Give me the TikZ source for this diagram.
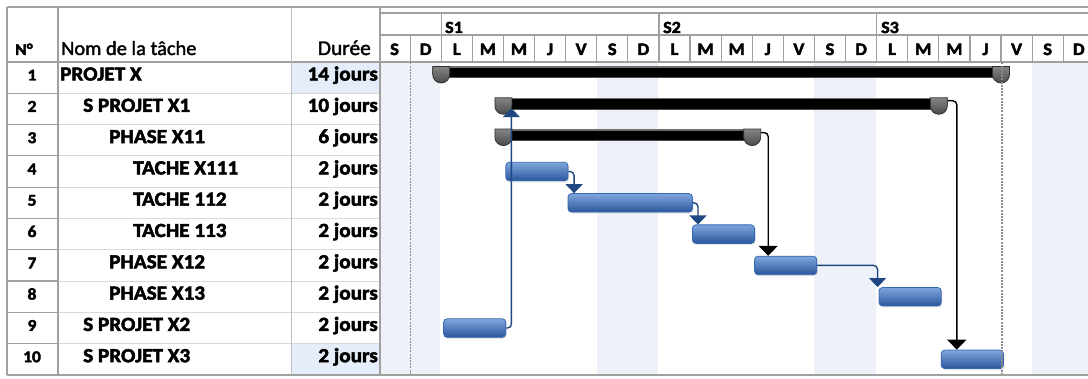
\documentclass[tikz,border=0pt]{standalone}
\usepackage{fontspec}
\setmainfont{Carlito}[FakeStretch=1.06,BoldFeatures={FakeBold=2.5}]
\newfontfamily\hdrfont{Carlito}[FakeStretch=1.02,FakeBold=1.8]
\usetikzlibrary{arrows.meta,calc,shadows}
\definecolor{gridD}{HTML}{A0A0A0}
\definecolor{gridM}{HTML}{BDBDBD}
\definecolor{gridL}{HTML}{DADADA}
\definecolor{wkend}{HTML}{EEF2F8}
\definecolor{hilite}{HTML}{E4EDF9}
\definecolor{barTop}{HTML}{7FA6DC}
\definecolor{barMid}{HTML}{4D7EC4}
\definecolor{barBot}{HTML}{2A569C}
\definecolor{barEdge}{HTML}{3567B2}
\definecolor{linkblue}{HTML}{1F4781}
\definecolor{capTop}{HTML}{858585}
\definecolor{capBot}{HTML}{4A4A4A}
\definecolor{capEdge}{HTML}{303030}
\definecolor{sumHi}{HTML}{6E6E6E}
\definecolor{dotgray}{HTML}{8C8C8C}
\newcommand\sumcap[2]{%
  \path[capstyle] ({#1-8.5},#2) -- ({#1+8.5},#2) -- ({#1+8.5},{#2+8})
    arc[start angle=0,end angle=180,radius=8.5] -- cycle;}
\begin{document}
\begin{tikzpicture}[x=1pt,y=-1pt,
  gd/.style={draw=gridD,line width=1.2pt},
  gm/.style={draw=gridM,line width=1pt},
  gl/.style={draw=gridL,line width=1pt},
  body/.style={font=\fontsize{20}{24}\selectfont\bfseries,inner sep=0pt,anchor=base west},
  durtxt/.style={font=\fontsize{20}{24}\selectfont\bfseries,inner sep=0pt,anchor=base east},
  numtxt/.style={font=\fontsize{16.5}{20}\selectfont\bfseries,inner sep=0pt,anchor=base},
  daytxt/.style={font=\fontsize{17.5}{20}\selectfont\bfseries,inner sep=0pt,anchor=base},
  wktxt/.style={font=\fontsize{17}{20}\selectfont\bfseries,inner sep=0pt,anchor=base west},
  sumbar/.style={rectangle,inner sep=0pt,minimum height=11.5pt,anchor=north west,fill=black},
  capstyle/.style={draw=capEdge,line width=0.8pt,top color=capTop,bottom color=capBot},
  task/.style={rectangle,rounded corners=3.5pt,inner sep=0pt,minimum height=18.5pt,
    anchor=north west,draw=barEdge,line width=0.8pt,
    top color=barTop,middle color=barMid,bottom color=barBot,
    drop shadow={shadow xshift=1pt,shadow yshift=-1.5pt,fill=black!25,opacity=0.4}},
  blink/.style={draw=linkblue,line width=1.4pt,rounded corners=4pt,
    -{Triangle[width=17pt,length=9pt]}},
  klink/.style={draw=black,line width=1.4pt,rounded corners=4pt,
    -{Triangle[width=19pt,length=10pt]}},
  dotline/.style={draw=dotgray,line width=1.2pt,dash pattern=on 2pt off 1.2pt}
]
\useasboundingbox (0,0) rectangle (1088,379);
\fill[white] (0,0) rectangle (1088,379);

% weekend shading
\foreach \k in {0,7,14,21}{
  \fill[wkend] ({379+31.1*\k},62.5) rectangle ({min(1088,379+31.1*(\k+2)-1)},374.5);
}
% highlighted duration cells
\fill[hilite] (292,62.5) rectangle (379.5,93.3);
\fill[hilite] (292,343.7) rectangle (379.5,374.5);

% row separators
\foreach \i in {2,...,10}{
  \pgfmathsetmacro\rt{62+31.3*(\i-1)}
  \draw[gl] (58,\rt) -- (380,\rt);
  \draw[gd] (7,\rt) -- (58,\rt);
}
% gantt header lines
\draw[gd] (380,13) -- (1088,13);
\draw[gd] (380,35) -- (1088,35);
\foreach \x in {441.2,658.9,876.6}{ \draw[gd] (\x,13) -- (\x,35); }
\foreach \k in {1,...,22}{ \draw[gd] ({379+31.1*\k},35) -- ({379+31.1*\k},62); }
% main table lines
\draw[gd] (7,7) -- (1088,7);
\draw[gd] (7,62) -- (1088,62);
\draw[gd] (7,375) -- (1088,375);
\draw[gd] (7,7) -- (7,375);
\draw[gd] (58,7) -- (58,375);
\draw[gm] (291.5,7) -- (291.5,375);
\draw[gd] (380,7) -- (380,375);

% header texts
\node[numtxt,anchor=base west] (hno) at (15,55) {N°};
\node[inner sep=0pt,anchor=base west,font=\hdrfont\fontsize{20}{24}\selectfont] (hname) at (61,55) {Nom de la tâche};
\node[inner sep=0pt,anchor=base east,font=\hdrfont\fontsize{21}{24}\selectfont] (hdur) at (371,55) {Durée};
\node[wktxt] (w1) at (445,33) {S1};
\node[wktxt] (w2) at (663,33) {S2};
\node[wktxt] (w3) at (881,33) {S3};
\foreach \k/\d in {0/S,1/D,2/L,3/M,4/M,5/J,6/V,7/S,8/D,9/L,10/M,11/M,12/J,13/V,14/S,15/D,16/L,17/M,18/M,19/J,20/V,21/S,22/D}{
  \node[daytxt] (d\k) at ({379+31.1*\k+15.55},55) {\d};
}

% rows
\foreach \i/\nm/\ind/\dur in {1/PROJET X/60/14 jours,2/S PROJET X1/83/10 jours,
  3/PHASE X11/109/6 jours,4/TACHE X111/133/2 jours,5/TACHE 112/133/2 jours,
  6/TACHE 113/133/2 jours,7/PHASE X12/109/2 jours,8/PHASE X13/109/2 jours,
  9/S PROJET X2/83/2 jours,10/S PROJET X3/83/2 jours}{
  \pgfmathsetmacro\rt{62+31.3*(\i-1)}
  \node[numtxt] (n\i) at (32,{\rt+18.5}) {\i};
  \node[body] (name\i) at (\ind,{\rt+18.5}) {\nm};
  \node[durtxt] (dur\i) at (378,{\rt+18.5}) {\dur};
}

% summary bars
\node[sumbar,minimum width=559.8pt] (s1) at (441.2,66.5) {};
\node[sumbar,minimum width=435.4pt] (s2) at (503.4,97.8) {};
\node[sumbar,minimum width=248.8pt] (s3) at (503.4,129.1) {};
\foreach \b in {s1,s2,s3}{
  \draw[sumHi,line width=1.5pt] ([yshift=-0.75pt]\b.north west) -- ([yshift=-0.75pt]\b.north east);
  \draw[black!70,line width=1pt] ([yshift=0.5pt]\b.south west) -- ([yshift=0.5pt]\b.south east);
}
\sumcap{441.2}{66.5}\sumcap{1001}{66.5}
\sumcap{503.4}{97.8}\sumcap{938.8}{97.8}
\sumcap{503.4}{129.1}\sumcap{752.2}{129.1}

% task bars
\node[task,minimum width=62.2pt] (t4) at (505.4,161.9) {};
\node[task,minimum width=124.4pt] (t5) at (567.6,193.2) {};
\node[task,minimum width=62.2pt] (t6) at (692,224.5) {};
\node[task,minimum width=62.2pt] (t7) at (754.2,255.8) {};
\node[task,minimum width=62.2pt] (t8) at (878.6,287.1) {};
\node[task,minimum width=62.2pt] (t9) at (443.2,318.4) {};
\node[task,minimum width=62.2pt] (t10) at (940.8,349.7) {};

% link points on summary caps
\coordinate (s3out) at ([xshift=8.5pt,yshift=-3.5pt]s3.north east);
\coordinate (s2out) at ([xshift=8.5pt,yshift=-3pt]s2.north east);
\coordinate (s2in) at ([xshift=8pt,yshift=1.5pt]s2.south west);

% links
\draw[blink] (t4.east) -| ([xshift=6.5pt]t5.north west);
\draw[blink] (t5.east) -| ([xshift=6pt]t6.north west);
\draw[klink] (s3out) -| ([xshift=14pt]t7.north west);
\draw[blink] (t7.east) -| ([xshift=-1pt]t8.north west);
\draw[blink] (t9.east) -| (s2in);
\draw[klink] (s2out) -| ([xshift=16pt]t10.north west);

% dotted marker lines
\draw[dotline] (410.1,62.5) -- (410.1,374.5);
\draw[dotline] (1002,62.5) -- (1002,374.5);
\end{tikzpicture}
\end{document}
